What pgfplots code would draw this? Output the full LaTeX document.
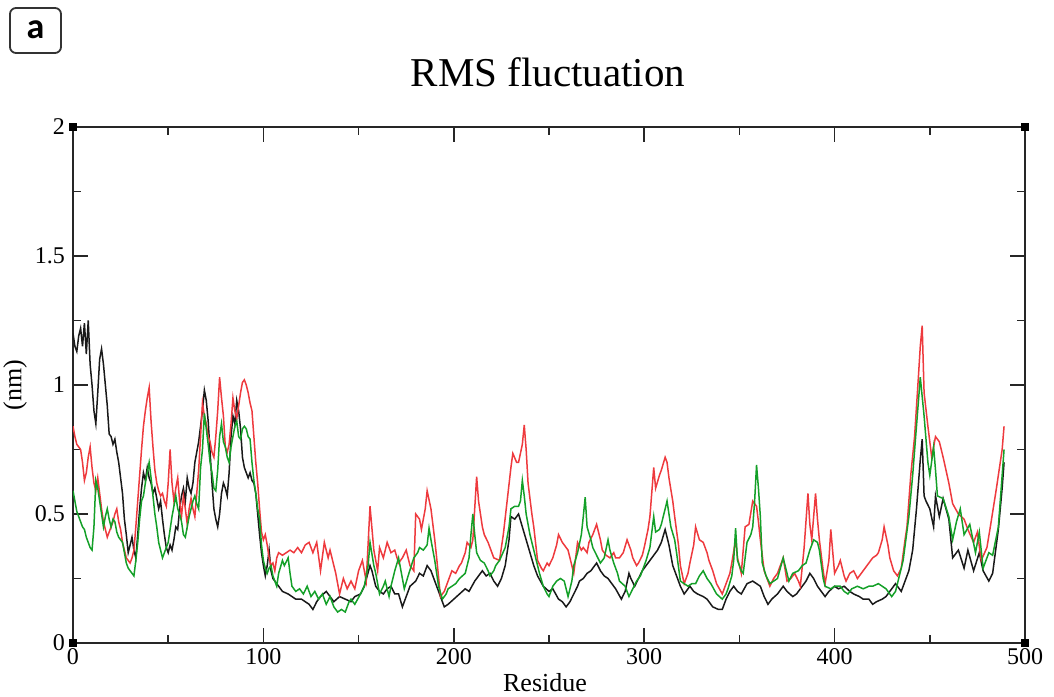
\documentclass[border=0pt]{standalone}
\usepackage{pgfplots}
\pgfplotsset{compat=1.18}
\usepackage{fontspec}
\setmainfont{Liberation Serif}
\newfontfamily\boxfont{Carlito}
\definecolor{rmsred}{RGB}{238,58,62}
\definecolor{rmsgreen}{RGB}{20,160,40}
\definecolor{rmsblack}{RGB}{25,25,25}
\begin{document}
\begin{tikzpicture}
\useasboundingbox (-36.5pt,-26.5pt) rectangle (490.5pt,321.5pt);
\begin{axis}[
  at={(0pt,0pt)}, anchor=south west,
  scale only axis, width=476pt, height=258pt,
  xmin=0, xmax=500, ymin=0, ymax=2,
  xtick={0,100,...,500}, ytick={0,0.5,...,2},
  minor xtick={50,150,...,450}, minor ytick={0.25,0.75,1.25,1.75},
  tick align=inside, major tick length=7.5pt, minor tick length=4pt,
  xtick pos=both, ytick pos=both,
  xticklabel pos=lower, yticklabel pos=left,
  axis line style={line width=0.9pt, black!85},
  every tick/.style={line width=0.8pt, black!85},
  tick label style={font=\fontsize{12}{14}\selectfont},
  xticklabel style={yshift=1pt},
  yticklabel style={xshift=-0.5pt},
  /pgf/number format/assume math mode=true,
  clip=true,
]
\addplot[rmsblack, line width=0.75pt] table {
0 1.20
1 1.15
2 1.13
3 1.19
4 1.22
5 1.15
6 1.24
7 1.12
8 1.25
9 1.08
10 1.00
11 0.90
12 0.85
13 0.97
14 1.10
15 1.14
16 1.08
17 1.00
18 0.92
19 0.81
20 0.80
21 0.77
22 0.79
23 0.74
24 0.70
25 0.64
26 0.58
27 0.48
28 0.42
29 0.35
30 0.38
31 0.41
32 0.36
33 0.33
34 0.42
35 0.52
36 0.60
37 0.66
38 0.63
39 0.68
40 0.64
41 0.62
42 0.58
43 0.60
44 0.56
45 0.52
46 0.55
47 0.48
48 0.42
49 0.37
50 0.35
51 0.38
52 0.36
53 0.40
54 0.45
55 0.44
56 0.52
57 0.57
58 0.60
59 0.55
60 0.64
61 0.60
62 0.58
63 0.62
64 0.70
65 0.74
66 0.78
67 0.84
68 0.90
69 0.98
70 0.94
71 0.86
72 0.74
73 0.62
74 0.52
75 0.48
76 0.45
77 0.50
78 0.58
79 0.62
80 0.60
81 0.57
82 0.66
83 0.80
84 0.88
85 0.85
86 0.94
87 0.90
88 0.83
89 0.72
90 0.68
91 0.66
92 0.64
93 0.66
94 0.63
95 0.62
96 0.58
97 0.50
98 0.42
99 0.35
100 0.30
101 0.26
102 0.30
103 0.36
104 0.28
105 0.25
106 0.24
108 0.22
110 0.20
113 0.19
115 0.18
117 0.17
120 0.17
122 0.16
124 0.15
126 0.13
128 0.16
130 0.18
133 0.20
135 0.18
137 0.16
140 0.18
143 0.17
146 0.16
148 0.18
151 0.19
153 0.22
156 0.30
157 0.28
159 0.22
161 0.20
163 0.19
165 0.21
167 0.22
169 0.19
171 0.19
173 0.14
175 0.18
177 0.22
180 0.24
182 0.27
184 0.26
186 0.30
188 0.28
191 0.22
193 0.18
195 0.14
197 0.15
200 0.17
203 0.19
206 0.21
208 0.20
211 0.24
213 0.26
215 0.28
217 0.26
219 0.27
221 0.24
223 0.22
225 0.25
227 0.30
229 0.40
230 0.49
232 0.48
234 0.50
236 0.45
238 0.40
240 0.35
242 0.30
244 0.26
247 0.22
250 0.20
252 0.21
255 0.17
257 0.16
259 0.14
261 0.16
263 0.19
265 0.22
266 0.24
268 0.25
270 0.27
272 0.28
275 0.31
277 0.28
279 0.26
281 0.25
283 0.23
285 0.21
288 0.17
290 0.20
292 0.27
293 0.25
295 0.22
297 0.25
299 0.28
301 0.30
303 0.32
305 0.34
307 0.36
309 0.39
311 0.44
313 0.38
315 0.30
317 0.26
319 0.22
321 0.19
324 0.22
326 0.20
328 0.19
331 0.18
333 0.17
336 0.14
339 0.13
341 0.13
343 0.17
345 0.20
347 0.22
349 0.20
351 0.19
354 0.23
357 0.24
359 0.23
361 0.22
363 0.18
365 0.15
367 0.17
370 0.19
373 0.22
375 0.20
378 0.18
380 0.19
382 0.21
385 0.24
387 0.27
389 0.25
391 0.22
393 0.20
395 0.18
397 0.20
400 0.22
402 0.21
405 0.22
408 0.20
410 0.19
413 0.18
415 0.17
418 0.17
420 0.15
422 0.16
425 0.17
427 0.18
430 0.21
432 0.23
435 0.20
437 0.24
439 0.28
441 0.36
443 0.52
445 0.71
446 0.79
447 0.57
448 0.55
450 0.52
452 0.45
453 0.57
455 0.49
457 0.56
460 0.48
462 0.33
465 0.36
468 0.29
470 0.36
473 0.28
476 0.35
478 0.28
481 0.24
483 0.27
486 0.44
488 0.60
489 0.70
};
\addplot[rmsred, line width=0.75pt] table {
0 0.84
1 0.80
2 0.77
3 0.76
4 0.75
5 0.70
6 0.63
7 0.66
8 0.72
9 0.76
10 0.68
11 0.62
12 0.59
13 0.64
14 0.58
15 0.52
16 0.47
17 0.44
18 0.41
19 0.43
20 0.45
21 0.47
22 0.50
23 0.52
24 0.47
25 0.44
26 0.39
27 0.36
28 0.33
29 0.32
30 0.31
31 0.33
32 0.36
33 0.45
34 0.55
35 0.65
36 0.75
37 0.84
38 0.90
39 0.95
40 0.99
41 0.86
42 0.76
43 0.67
44 0.62
45 0.59
46 0.57
47 0.58
48 0.55
49 0.53
50 0.62
51 0.75
52 0.62
53 0.55
54 0.60
55 0.64
56 0.55
57 0.49
58 0.57
59 0.52
60 0.46
61 0.52
62 0.56
63 0.52
64 0.49
65 0.58
66 0.67
67 0.80
68 0.93
69 0.88
70 0.85
71 0.80
72 0.78
73 0.74
74 0.72
75 0.80
76 0.90
77 1.03
78 0.95
79 0.88
80 0.76
81 0.74
82 0.77
83 0.85
84 0.95
85 0.90
86 0.87
87 0.92
88 0.97
89 1.01
90 1.02
91 1.00
92 0.97
93 0.93
94 0.90
95 0.80
96 0.70
97 0.62
98 0.52
99 0.43
100 0.40
101 0.42
102 0.38
103 0.33
104 0.30
105 0.31
106 0.28
107 0.33
108 0.35
110 0.34
112 0.35
114 0.36
116 0.35
118 0.37
120 0.35
122 0.38
124 0.39
126 0.35
128 0.39
130 0.28
132 0.39
134 0.33
135 0.36
137 0.30
138 0.27
140 0.19
142 0.25
144 0.21
146 0.24
148 0.21
150 0.28
152 0.32
154 0.24
156 0.53
158 0.36
160 0.28
161 0.37
163 0.33
165 0.39
167 0.35
169 0.36
171 0.31
173 0.33
175 0.36
177 0.30
179 0.28
180 0.50
182 0.48
183 0.44
185 0.52
186 0.59
188 0.52
190 0.40
191 0.33
193 0.18
195 0.20
196 0.22
198 0.26
199 0.28
201 0.27
203 0.30
204 0.31
206 0.35
207 0.39
209 0.37
210 0.40
212 0.645
213 0.55
215 0.45
216 0.42
218 0.39
220 0.35
221 0.33
224 0.32
226 0.42
228 0.55
230 0.68
231 0.735
233 0.70
234 0.70
236 0.77
237 0.845
238 0.75
239 0.62
241 0.50
242 0.45
244 0.32
246 0.29
247 0.28
249 0.31
250 0.30
252 0.33
254 0.38
255 0.42
257 0.39
259 0.37
260 0.36
262 0.30
263 0.27
265 0.39
267 0.36
268 0.37
270 0.35
271 0.39
273 0.42
275 0.46
277 0.40
278 0.36
280 0.34
282 0.33
284 0.35
285 0.33
287 0.33
289 0.35
291 0.40
293 0.36
294 0.33
296 0.30
297 0.31
299 0.34
300 0.37
302 0.44
303 0.49
305 0.68
306 0.60
308 0.65
309 0.67
311 0.72
312 0.70
313 0.64
315 0.55
316 0.49
318 0.38
319 0.30
321 0.23
323 0.27
324 0.31
326 0.38
327 0.45
329 0.40
331 0.39
333 0.35
334 0.32
336 0.28
338 0.23
341 0.19
343 0.23
345 0.27
346 0.31
348 0.40
349 0.33
351 0.27
353 0.45
355 0.46
357 0.55
359 0.53
360 0.47
361 0.40
363 0.28
365 0.24
366 0.22
368 0.25
370 0.27
372 0.31
373 0.33
375 0.24
377 0.25
379 0.27
381 0.24
382 0.22
384 0.37
386 0.58
387 0.46
388 0.40
390 0.58
391 0.48
392 0.40
394 0.28
395 0.23
397 0.32
398 0.44
400 0.27
402 0.30
403 0.32
405 0.26
406 0.24
408 0.27
410 0.28
412 0.25
413 0.26
415 0.28
417 0.30
419 0.32
420 0.33
422 0.34
423 0.35
425 0.40
426 0.45
428 0.38
429 0.33
431 0.28
433 0.26
435 0.29
437 0.40
438 0.45
440 0.65
442 0.80
444 1.03
445 1.15
446 1.23
447 0.97
449 0.84
451 0.72
452 0.76
453 0.80
455 0.78
457 0.72
460 0.62
462 0.54
465 0.50
468 0.48
470 0.44
473 0.39
475 0.43
477 0.32
480 0.37
482 0.46
485 0.60
488 0.75
489 0.84
};
\addplot[rmsgreen, line width=0.75pt] table {
0 0.59
1 0.55
2 0.51
3 0.49
4 0.47
5 0.45
6 0.44
7 0.41
8 0.39
9 0.37
10 0.36
11 0.45
12 0.63
13 0.60
14 0.55
15 0.50
16 0.45
17 0.49
18 0.52
19 0.48
20 0.45
21 0.48
22 0.47
23 0.43
24 0.41
25 0.40
26 0.39
27 0.35
28 0.31
29 0.29
30 0.28
31 0.27
32 0.26
33 0.32
34 0.39
35 0.48
36 0.55
37 0.57
38 0.62
39 0.66
40 0.70
41 0.64
42 0.57
43 0.50
44 0.45
45 0.39
46 0.36
47 0.33
48 0.35
49 0.37
50 0.39
51 0.44
52 0.49
53 0.53
54 0.57
55 0.52
56 0.50
57 0.47
58 0.42
59 0.41
60 0.45
61 0.49
62 0.52
63 0.55
64 0.57
65 0.54
66 0.52
67 0.68
68 0.75
69 0.89
70 0.83
71 0.77
72 0.70
73 0.66
74 0.60
75 0.59
76 0.67
77 0.80
78 0.85
79 0.78
80 0.76
81 0.72
82 0.70
83 0.76
84 0.80
85 0.84
86 0.86
87 0.80
88 0.79
89 0.83
90 0.84
91 0.83
92 0.80
93 0.79
94 0.70
95 0.63
96 0.58
97 0.52
98 0.48
99 0.38
100 0.32
101 0.29
102 0.27
103 0.29
104 0.30
105 0.26
107 0.22
108 0.27
110 0.32
111 0.30
113 0.33
114 0.27
115 0.22
117 0.20
119 0.21
121 0.19
123 0.22
125 0.18
127 0.20
129 0.17
131 0.19
133 0.15
135 0.18
137 0.14
139 0.12
141 0.13
143 0.12
145 0.16
146 0.17
148 0.15
151 0.19
153 0.22
155 0.30
156 0.39
158 0.30
159 0.27
161 0.19
163 0.22
164 0.24
166 0.18
167 0.22
169 0.28
171 0.33
173 0.25
174 0.21
176 0.26
179 0.33
181 0.35
182 0.37
184 0.36
186 0.38
187 0.445
188 0.40
190 0.32
192 0.22
194 0.17
196 0.19
197 0.21
199 0.22
201 0.23
203 0.25
206 0.27
207 0.30
208 0.33
209 0.42
210 0.50
211 0.42
212 0.35
214 0.32
216 0.31
218 0.28
219 0.26
221 0.28
222 0.30
224 0.32
227 0.37
229 0.45
230 0.52
232 0.53
234 0.53
235 0.55
236 0.63
237 0.57
238 0.50
240 0.42
242 0.36
244 0.30
245 0.27
247 0.22
249 0.19
250 0.18
252 0.22
254 0.24
256 0.25
258 0.24
260 0.18
262 0.24
263 0.30
265 0.35
267 0.42
268 0.49
269 0.565
270 0.45
272 0.40
273 0.37
275 0.34
277 0.31
279 0.33
281 0.40
282 0.36
284 0.31
286 0.27
287 0.24
290 0.22
292 0.18
294 0.21
296 0.24
298 0.26
299 0.28
301 0.32
303 0.37
305 0.49
306 0.43
308 0.44
309 0.46
311 0.52
312 0.55
313 0.50
314 0.45
316 0.40
317 0.35
319 0.24
321 0.23
323 0.22
325 0.23
327 0.23
329 0.26
331 0.28
333 0.25
335 0.23
338 0.19
341 0.17
343 0.19
344 0.21
346 0.26
347 0.32
348 0.445
349 0.32
351 0.28
352 0.27
354 0.39
356 0.42
357 0.45
358 0.55
359 0.69
360 0.60
361 0.49
362 0.31
364 0.26
366 0.23
368 0.24
370 0.25
373 0.33
374 0.30
376 0.24
378 0.27
381 0.28
383 0.30
385 0.31
387 0.36
389 0.40
391 0.39
392 0.36
394 0.25
395 0.22
398 0.21
400 0.22
403 0.22
405 0.20
407 0.19
409 0.21
412 0.22
415 0.21
418 0.22
420 0.22
423 0.23
425 0.22
427 0.21
430 0.18
432 0.20
433 0.23
436 0.32
439 0.49
441 0.65
443 0.84
445 1.03
447 0.88
449 0.70
450 0.65
452 0.76
453 0.67
454 0.57
457 0.56
460 0.49
462 0.40
464 0.47
466 0.52
468 0.42
471 0.46
474 0.35
476 0.43
478 0.29
481 0.35
483 0.34
486 0.45
488 0.65
489 0.75
};
\end{axis}
% corner squares of the frame (Grace style)
\foreach \cx/\cy in {0/0, 476/0, 0/258, 476/258}
  \fill[black] (\cx pt-2.2pt,\cy pt-2.2pt) rectangle ++(4.4pt,4.4pt);
% titles and labels
\node[font=\fontsize{20.5}{23}\selectfont] at (237.5pt,285.5pt) {RMS fluctuation};
\node[font=\fontsize{13}{15}\selectfont] at (236pt,-20pt) {Residue};
\node[font=\fontsize{13}{15}\selectfont, rotate=90] at (-29pt,129pt) {(nm)};
% panel letter
\draw[line width=0.9pt, black!80, rounded corners=3pt] (-31.5pt,295pt) rectangle (-6pt,317.5pt);
\node[font=\boxfont\bfseries\fontsize{18}{20}\selectfont] at (-18.75pt,306.5pt) {a};
\end{tikzpicture}
\end{document}
